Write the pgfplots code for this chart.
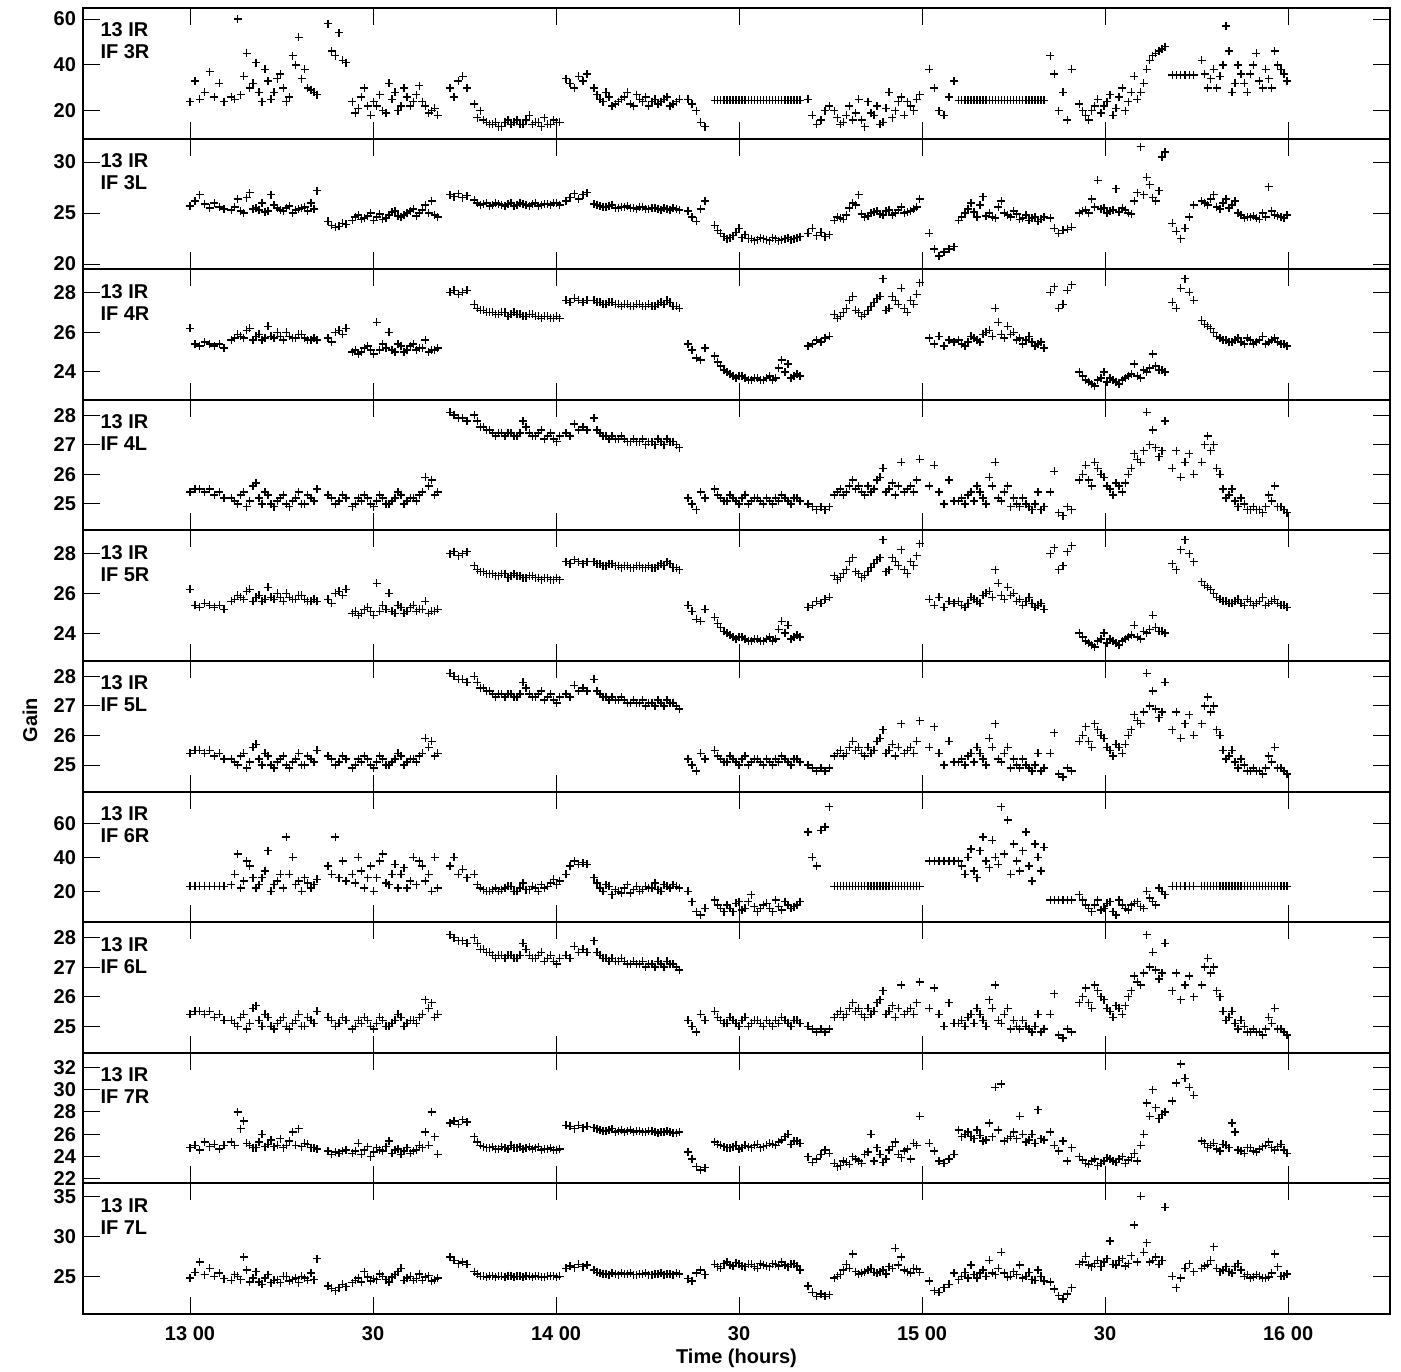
\documentclass[border=0pt]{standalone}
\usepackage{fontspec}
\setmainfont{Liberation Sans}
\usepackage{pgfplots}
\usepackage{pgfplotstable}
\pgfplotsset{compat=1.18}

% time in minutes after 13:00; panels 5R, 5L and 6L repeat 4R and 4L
\pgfplotstableread{
t r3 l3 r4 l4 r6 r7 l7
0.0 24 25.7 26.2 25.4 23 24.8 24.8
0.8 33 26.2 25.4 25.5 23 25.0 25.5
1.6 25 26.8 25.3 25.5 23 24.6 26.8
2.4 28 25.9 25.5 25.4 23 25.3 25.2
3.2 37 25.5 25.4 25.5 23 24.9 26.0
4.0 26 26.0 25.3 25.3 23 25.1 25.0
4.8 32 25.6 25.4 25.4 23 24.7 25.4
5.6 24 25.4 25.2 25.2 23 25.0 24.7
6.8 26 25.3 25.6 25.2 24 25.3 24.5
7.8 60 26.4 25.9 25.0 42 28.0 25.0
8.8 35 25.0 25.7 25.4 26 27.2 27.4
9.8 30 27.0 26.2 25.1 35 25.0 24.3
10.8 41 25.5 25.8 25.7 22 24.8 25.6
11.8 24 26.0 25.6 25.0 28 26.0 24.0
12.8 33 25.2 26.3 25.3 44 25.1 25.2
13.8 28 25.8 25.7 24.9 24 24.9 24.5
14.8 36 25.3 25.8 25.2 30 25.6 24.2
15.8 24 25.5 26.0 25.0 52 25.0 25.0
16.8 44 25.0 25.7 25.1 40 26.2 24.6
17.8 52 25.4 25.9 25.4 26 26.5 24.2
18.8 38 25.6 25.7 25.0 28 25.2 24.8
19.8 29 26.0 25.6 25.2 22 24.8 25.4
20.8 27 27.2 25.6 25.5 27 24.7 27.2
22.6 58 24.2 25.7 25.3 35 24.5 23.8
23.2 46 23.8 25.5 25.2 30 24.2 23.5
23.8 44 23.6 26.0 25.0 52 24.4 23.2
24.4 54 23.7 26.1 25.1 28 24.3 23.6
25.0 42 24.0 25.9 25.3 38 24.5 24.0
25.6 41 23.9 26.2 25.2 26 24.6 23.7
26.6 24 24.3 25.0 24.9 30 24.3 24.2
27.6 21 24.8 24.9 25.2 40 25.2 24.8
28.6 30 24.5 25.2 25.3 22 24.6 25.6
29.6 18 25.0 25.1 25.0 35 24.0 24.4
30.6 22 24.6 26.5 25.1 28 24.8 24.6
31.6 20 24.4 25.4 25.2 42 24.5 25.0
32.6 32 24.8 26.0 25.0 24 25.4 24.3
33.6 28 25.2 25.0 25.2 36 24.6 25.2
34.6 22 24.6 25.3 25.3 30 24.2 26.0
35.6 26 25.0 25.1 25.1 22 24.8 24.8
36.6 24 25.4 25.4 25.2 40 24.5 24.5
37.6 31 25.0 25.2 25.3 38 25.0 25.3
38.6 22 25.8 25.6 25.9 26 26.2 24.9
39.6 20 26.2 25.1 25.8 20 28.0 24.4
40.6 18 24.6 25.2 25.4 22 24.2 24.8
42.6 30 26.8 28.0 28.1 35 27.0 27.4
43.3 26 26.6 28.1 28.0 40 27.2 27.0
44.0 33 26.9 27.9 27.9 30 26.9 26.6
44.7 35 26.5 28.0 27.9 33 27.3 26.8
45.4 30 26.7 28.1 27.8 28 27.1 26.5
46.6 23 26.3 27.4 28.0 30 25.8 25.6
47.6 20 25.8 27.1 27.6 22 25.0 25.0
48.6 15 26.0 27.0 27.5 20 24.8 24.9
49.6 14 25.8 27.0 27.4 21 24.9 25.1
50.6 13 25.9 26.9 27.4 20 24.7 25.0
51.6 15 25.7 27.0 27.3 22 24.8 24.9
52.6 14 26.0 26.9 27.4 23 25.0 25.1
53.6 16 25.8 26.9 27.3 20 24.8 25.0
54.6 14 25.9 26.8 27.8 25 24.7 24.9
55.6 18 25.7 26.9 27.4 21 24.9 25.0
56.6 15 26.0 26.8 27.3 22 24.8 25.1
57.6 13 25.8 26.7 27.5 24 24.6 24.9
58.6 14 25.9 26.8 27.3 23 24.7 25.0
59.6 16 26.0 26.7 27.2 27 24.6 25.1
60.6 15 25.8 26.7 27.3 26 24.7 25.0
61.6 34 26.2 27.6 27.4 30 26.8 26.0
62.3 32 26.5 27.5 27.3 35 26.7 26.3
63.0 30 26.9 27.7 27.7 38 26.5 26.1
63.7 35 26.4 27.6 27.5 36 26.8 26.5
64.4 33 26.8 27.5 27.6 37 26.6 26.2
65.1 36 27.0 27.6 27.5 36 26.7 26.4
66.2 30 25.9 27.6 27.9 28 26.6 25.8
67.2 25 25.7 27.5 27.4 22 26.4 25.4
68.2 28 25.6 27.4 27.3 24 26.3 25.3
69.2 22 25.8 27.5 27.3 18 26.5 25.4
70.2 24 25.5 27.4 27.2 20 26.3 25.2
71.2 26 25.6 27.4 27.2 22 26.2 25.3
72.2 23 25.5 27.3 27.1 19 26.4 25.4
73.2 27 25.4 27.4 27.1 23 26.3 25.2
74.2 24 25.6 27.3 27.2 21 26.2 25.3
75.2 22 25.4 27.4 27.1 22 26.3 25.2
76.2 25 25.5 27.3 27.0 25 26.2 25.3
77.2 24 25.3 27.5 27.1 20 26.2 25.4
78.2 26 25.4 27.6 27.2 23 26.3 25.3
79.2 23 25.5 27.3 27.1 24 26.1 25.2
80.2 25 25.3 27.2 26.9 22 26.2 25.3
81.6 25 25.2 25.4 25.2 20 24.4 24.7
82.3 23 24.6 25.1 25.0 14 23.8 24.4
83.0 20 24.2 24.7 24.8 8 23.1 25.4
83.7 15 25.4 24.6 25.4 6 22.8 25.8
84.4 13 26.2 25.2 25.2 10 23.0 25.2
86.0 24.5 23.8 24.8 25.5 15 25.3 26.5
87.0 24.5 23.0 24.3 25.2 10 25.0 26.0
88.0 24.5 22.5 24.0 25.1 12 24.8 26.8
89.0 24.5 22.8 23.8 25.2 8 24.9 26.3
90.0 24.5 23.5 23.8 25.0 14 24.7 26.6
91.0 24.5 22.9 23.7 25.3 10 25.0 26.2
92.0 24.5 22.5 23.6 25.1 18 24.8 26.5
93.0 24.5 22.4 23.7 25.2 8 25.1 26.0
94.0 24.5 22.5 23.6 25.0 12 24.9 26.4
95.0 24.5 22.3 23.8 25.1 10 25.2 26.2
96.0 24.5 22.5 23.7 25.2 15 25.0 26.5
97.0 24.5 22.4 24.6 25.3 9 25.5 26.8
98.0 24.5 22.6 24.4 25.1 12 26.0 26.2
99.0 24.5 22.5 23.8 25.2 11 25.4 26.6
100.0 24.5 22.7 23.8 25.1 14 25.2 25.8
101.3 25 23.0 25.3 25.0 55 24.0 23.8
102.0 18 23.5 25.4 24.9 40 23.5 23.0
102.7 14 22.8 25.6 24.8 35 23.8 22.5
103.4 16 23.1 25.5 24.9 56 24.2 22.8
104.1 20 22.7 25.7 24.8 58 24.6 22.5
104.8 22 22.9 25.8 24.9 70 24.3 22.7
105.6 20 24.3 26.9 25.3 23 23.4 24.8
106.6 14 24.5 26.8 25.5 23 23.2 25.2
107.6 18 24.8 27.2 25.4 23 23.5 26.5
108.6 16 26.0 27.8 25.8 23 24.0 27.8
109.6 25 26.8 27.0 25.6 23 23.6 25.3
110.6 13 24.6 26.9 25.3 23 24.2 25.6
111.6 19 25.0 27.3 25.4 23 26.0 26.0
112.6 22 25.2 27.7 25.8 23 24.8 25.4
113.6 15 24.8 28.7 26.2 23 23.5 25.8
114.6 28 25.3 27.2 25.5 23 24.6 26.2
115.6 20 25.0 27.6 25.3 23 25.3 28.5
116.6 26 25.6 28.2 26.4 23 23.9 27.4
117.6 24 25.1 27.0 25.5 23 24.7 25.6
118.6 20 25.4 27.4 25.4 23 25.2 26.0
119.6 27 26.4 28.5 26.5 23 27.6 25.5
121.2 38 23.0 25.7 25.6 38 25.2 24.4
122.0 30 21.5 25.4 26.3 38 24.5 23.2
122.8 20 20.8 25.8 25.4 38 23.6 23.0
123.6 18 21.2 25.3 25.0 38 23.4 23.6
124.4 26 21.5 25.6 25.8 38 23.8 24.0
125.2 33 21.7 25.5 25.1 38 24.2 25.4
126.0 24.5 24.3 25.6 25.1 38 26.4 24.6
127.0 24.5 25.0 25.3 25.0 30 26.0 25.5
128.0 24.5 26.0 25.8 25.4 45 25.8 26.4
129.0 24.5 24.6 25.6 25.6 28 26.4 24.8
130.0 24.5 26.6 25.9 25.2 52 25.4 25.8
131.0 24.5 25.0 26.1 25.9 34 27.0 27.0
132.0 24.5 24.5 27.2 26.4 40 30.2 25.2
133.0 24.5 26.2 25.9 25.1 70 30.5 28.0
134.0 24.5 24.8 26.3 25.6 62 25.6 24.9
135.0 24.5 25.2 26.0 25.2 48 26.2 25.6
136.0 24.5 24.4 25.7 24.9 32 27.6 26.4
137.0 24.5 24.8 25.6 25.0 55 25.3 25.0
138.0 24.5 24.5 25.5 24.8 26 26.0 24.6
139.0 24.5 24.2 25.4 25.4 40 28.2 25.8
140.0 24.5 24.6 25.2 24.9 46 25.5 24.4
141.0 44 24.5 28.0 25.4 15 26.2 24.3
141.7 36 23.5 28.3 26.1 15 25.0 23.4
142.4 20 23.0 27.2 24.7 15 24.5 22.6
143.1 28 23.3 27.4 24.6 15 25.4 22.2
143.8 16 23.4 28.1 24.9 15 23.6 22.8
144.5 38 23.6 28.4 24.8 15 24.8 23.6
145.8 23 25.0 24.0 25.8 18 24.0 26.5
146.8 18 25.3 23.6 26.3 12 23.4 27.5
147.8 20 26.4 23.4 25.6 8 23.6 26.2
148.8 25 28.2 23.6 26.2 15 23.2 27.0
149.8 22 25.5 24.0 25.9 10 23.6 26.8
150.8 27 25.2 23.7 25.5 14 23.8 29.4
151.8 21 27.4 23.5 25.7 6 23.5 26.4
152.8 30 25.5 23.6 25.4 12 24.0 27.2
153.8 24 25.0 23.8 26.0 9 23.7 26.6
154.8 35 26.2 24.4 26.7 13 24.3 31.4
155.8 28 31.5 23.7 26.4 11 25.0 35.0
156.8 38 28.5 24.0 28.1 20 28.8 29.2
157.8 44 26.5 24.9 27.5 14 30.0 27.0
158.8 46 27.2 24.1 26.6 22 27.4 26.5
159.8 48 31.0 24.0 27.8 18 28.0 33.6
161.0 35.5 24.0 27.5 26.2 23 29.0 25.0
161.7 35.5 23.2 27.2 26.8 23 30.6 23.6
162.4 35.5 22.5 28.2 25.9 23 32.3 24.8
163.1 35.5 23.5 28.7 26.4 23 31.0 26.0
163.8 35.5 24.6 28.0 26.7 23 30.2 26.6
164.5 35.5 25.8 27.6 26.0 23 29.5 25.6
165.8 42 26.2 26.6 26.4 23 25.4 26.0
166.8 30 25.8 26.3 27.3 23 24.8 26.5
167.8 38 26.8 26.0 27.0 23 25.2 28.7
168.8 35 25.4 25.7 26.0 23 24.5 25.6
169.8 57 26.4 25.6 25.2 23 25.0 26.2
170.8 28 25.8 25.5 25.5 23 27.0 25.4
171.8 40 25.0 25.7 24.9 23 24.6 26.6
172.8 32 24.5 25.4 25.0 23 24.3 25.0
173.8 36 24.6 25.6 24.8 23 24.8 24.8
174.8 45 24.5 25.5 24.8 23 24.4 25.2
175.8 30 25.0 25.8 24.7 23 24.9 24.8
176.8 34 27.6 25.5 25.3 23 25.3 24.9
177.8 46 24.8 25.7 25.6 23 24.6 27.8
178.8 38 24.6 25.4 24.9 23 25.1 25.0
179.8 33 24.8 25.3 24.7 23 24.3 25.3
}\gains

% the half-minute solutions inside the long scans
\pgfplotstableread{
t r3 l3 r4 l4 r6 r7 l7
7.3 25 25.6 25.7 25.1 30 25.0 25.2
8.3 27 25.2 25.8 25.3 22 26.5 24.6
9.3 45 26.5 26.1 24.9 38 25.2 25.8
10.3 32 25.4 25.6 25.6 28 24.8 24.8
11.3 28 25.3 25.9 25.2 24 25.3 24.3
12.3 38 25.1 25.7 25.4 32 24.9 24.8
13.3 25 26.8 25.8 25.0 20 25.5 24.2
14.3 34 25.5 26.0 25.1 26 25.0 24.6
15.3 30 25.2 25.6 25.3 22 24.8 25.0
16.3 26 25.7 25.8 24.9 30 25.4 24.4
17.3 40 25.3 25.7 25.2 24 25.0 24.8
18.3 34 25.5 25.9 25.0 20 24.9 25.0
19.3 30 25.2 25.6 25.3 25 25.1 24.5
20.3 28 25.4 25.7 25.1 24 24.8 24.6
27.1 19 24.6 25.1 25.0 25 24.5 24.5
28.1 26 24.4 25.0 25.1 32 24.2 24.3
29.1 22 24.7 25.3 25.2 28 24.9 24.9
30.1 24 24.3 24.9 24.9 20 24.4 24.7
31.1 27 24.9 25.1 25.3 38 24.6 25.3
32.1 19 24.5 25.2 25.0 25 24.9 24.6
33.1 25 25.1 25.1 25.1 30 24.3 24.9
34.1 20 24.7 25.4 25.4 22 24.7 25.6
35.1 30 24.8 25.0 25.0 34 24.5 24.5
36.1 22 25.2 25.3 25.2 26 24.3 25.0
37.1 27 24.7 25.1 25.1 24 24.6 24.7
38.1 24 25.3 25.2 25.4 35 24.8 24.5
39.1 19 25.0 25.0 25.6 30 25.0 25.1
40.1 21 24.8 25.1 25.3 40 25.8 24.6
47.1 17 26.0 27.2 27.8 24 25.3 25.3
48.1 16 25.9 27.1 27.6 21 24.9 25.0
49.1 14 25.7 27.0 27.5 20 24.8 25.1
50.1 15 26.0 26.9 27.3 22 24.7 24.9
51.1 13 25.8 27.0 27.4 21 24.9 25.0
52.1 16 25.9 26.8 27.4 23 24.7 25.1
53.1 15 25.7 27.0 27.3 20 24.8 24.9
54.1 14 26.0 26.9 27.4 22 24.9 25.0
55.1 16 25.8 26.8 27.6 21 24.8 25.1
56.1 14 25.9 26.9 27.3 23 24.7 24.9
57.1 15 25.7 26.8 27.4 20 24.9 25.0
58.1 17 25.9 26.8 27.2 22 24.7 24.9
59.1 14 25.8 26.7 27.4 25 24.8 25.1
60.1 15 26.0 26.8 27.1 24 24.6 24.9
66.7 27 25.8 27.5 27.5 25 26.5 25.5
67.7 24 25.6 27.4 27.3 20 26.3 25.3
68.7 26 25.7 27.5 27.2 23 26.4 25.2
69.7 23 25.5 27.4 27.2 21 26.2 25.3
70.7 25 25.6 27.3 27.3 19 26.4 25.4
71.7 28 25.7 27.4 27.1 24 26.3 25.3
72.7 22 25.5 27.3 27.2 21 26.2 25.2
73.7 25 25.6 27.4 27.1 20 26.3 25.3
74.7 26 25.4 27.3 27.0 23 26.2 25.4
75.7 24 25.5 27.3 27.1 22 26.3 25.2
76.7 23 25.4 27.4 27.2 21 26.1 25.3
77.7 25 25.5 27.4 27.0 24 26.2 25.2
78.7 22 25.3 27.5 27.1 22 26.2 25.3
79.7 24 25.4 27.3 27.0 23 26.1 25.4
86.5 24.5 23.3 24.5 25.3 12 25.1 26.2
87.5 24.5 22.7 24.1 25.1 8 24.9 26.6
88.5 24.5 22.6 23.9 25.3 10 24.8 26.4
89.5 24.5 23.1 23.7 25.1 13 25.0 26.7
90.5 24.5 22.6 23.8 25.2 9 24.8 26.3
91.5 24.5 22.5 23.6 25.0 14 24.9 26.5
92.5 24.5 22.3 23.7 25.2 11 25.0 26.2
93.5 24.5 22.6 23.6 25.1 10 24.8 26.6
94.5 24.5 22.4 23.7 25.2 13 25.0 26.3
95.5 24.5 22.6 23.6 25.0 8 25.1 26.6
96.5 24.5 22.3 24.2 25.1 11 25.3 26.3
97.5 24.5 22.5 24.0 25.2 14 25.8 26.4
98.5 24.5 22.4 23.7 25.0 10 25.1 26.5
99.5 24.5 22.6 23.9 25.2 12 25.4 26.3
106.1 17 24.6 26.7 25.4 23 23.1 25.0
107.1 15 24.4 27.0 25.3 23 23.6 25.8
108.1 22 25.5 27.6 25.6 23 23.3 26.0
109.1 19 25.8 27.1 25.5 23 23.8 25.6
110.1 16 24.9 26.8 25.4 23 23.4 25.4
111.1 24 24.7 27.1 25.6 23 24.4 25.8
112.1 18 25.1 27.5 25.5 23 23.6 25.5
113.1 14 24.9 27.8 25.9 23 24.2 25.6
114.1 21 25.2 27.1 25.4 23 23.8 25.3
115.1 17 24.8 27.8 25.7 23 24.9 26.0
116.1 24 25.3 27.4 25.6 23 24.2 26.4
117.1 18 25.0 27.2 25.4 23 24.5 25.8
118.1 22 25.2 27.6 25.6 23 23.8 25.4
119.1 25 25.6 27.9 25.8 23 25.0 25.9
126.5 24.5 24.6 25.4 25.2 35 25.8 25.0
127.5 24.5 25.4 25.5 25.3 40 26.2 24.8
128.5 24.5 25.1 25.7 25.1 32 25.6 25.2
129.5 24.5 25.8 25.5 25.4 44 25.9 25.4
130.5 24.5 24.7 26.0 25.0 38 25.5 25.0
131.5 24.5 24.6 25.8 25.6 50 25.8 25.4
132.5 24.5 25.6 26.5 25.2 36 26.4 26.0
133.5 24.5 25.0 25.7 25.4 42 25.4 25.4
134.5 24.5 24.6 25.9 24.9 30 25.8 25.0
135.5 24.5 24.9 25.6 25.0 38 25.6 25.2
136.5 24.5 24.5 25.4 25.2 44 26.0 24.8
137.5 24.5 24.3 25.8 24.9 35 25.5 25.5
138.5 24.5 24.6 25.3 25.0 48 25.2 24.5
139.5 24.5 24.4 25.5 24.8 32 25.6 25.0
146.3 20 25.2 23.8 26.0 15 23.7 26.8
147.3 16 25.0 23.5 25.8 10 23.3 26.4
148.3 22 25.6 23.3 26.4 12 23.8 26.6
149.3 19 25.4 23.7 26.0 9 23.4 26.2
150.3 24 25.0 23.5 25.6 13 23.9 27.2
151.3 18 25.3 23.6 25.3 8 23.6 26.5
152.3 26 25.1 23.4 25.6 15 23.8 27.0
153.3 20 25.3 23.7 25.7 10 23.4 26.3
154.3 28 24.9 23.9 26.2 12 23.9 27.6
155.3 25 27.0 23.8 26.5 14 23.6 26.8
156.3 32 26.8 24.1 26.8 10 26.0 28.0
157.3 42 27.8 24.2 27.0 16 27.6 26.8
158.3 45 26.2 24.3 26.9 12 28.4 27.4
159.3 47 30.5 24.1 26.8 20 27.8 27.0
166.3 36 26.0 26.4 27.0 23 25.2 26.3
167.3 34 26.4 26.2 26.8 23 25.0 27.0
168.3 30 25.6 25.8 26.2 23 24.7 26.0
169.3 40 26.0 25.6 25.5 23 25.1 25.8
170.3 46 25.5 25.5 25.3 23 24.8 25.6
171.3 32 26.2 25.6 25.1 23 26.2 26.2
172.3 36 24.8 25.5 25.2 23 24.5 25.8
173.3 28 24.6 25.7 24.8 23 24.8 25.2
174.3 40 24.7 25.4 24.9 23 24.5 24.9
175.3 33 24.4 25.6 24.8 23 24.7 25.0
176.3 38 24.6 25.4 24.9 23 25.0 24.8
177.3 30 25.2 25.6 25.1 23 24.8 25.4
178.3 40 24.7 25.5 24.9 23 24.9 26.2
179.3 36 24.5 25.4 24.8 23 24.6 25.1
}\gainsb

\newcommand{\lbl}{\fontsize{10}{12}\selectfont\bfseries}

\pgfplotsset{
  panel/.style={
    scale only axis, width=653.5pt, height=65.3pt, anchor=north west,
    xmin=-17.54, xmax=196.7, xtick={0,30,...,180}, xticklabels={},
    tick align=inside, major tick length=8.5pt,
    axis line style={line width=1pt},
    every tick/.style={black, line width=0.5pt},
    /pgf/number format/assume math mode=true,
    yticklabel style={font=\lbl},
  },
  gainmark/.style={black, only marks, mark=+, mark size=2pt, line width=0.7pt},
}

% #1 row, #2 ymin, #3 ymax, #4 ticks, #5 column, #6 IF name, #7 extra options
\newcommand{\panel}[7]{%
  \begin{axis}[panel, at={(0pt,{-#1*65.3pt})}, ymin=#2, ymax=#3, ytick={#4}, #7]
    \addplot[gainmark] table[x=t, y=#5] {\gains};
    \addplot[gainmark] table[x=t, y=#5] {\gainsb};
    \node[font=\lbl, anchor=west] at (rel axis cs:0.008,0.832) {13 IR};
    \node[font=\lbl, anchor=west] at (rel axis cs:0.008,0.663) {#6};
  \end{axis}}

\begin{document}
\begin{tikzpicture}
\path[use as bounding box] (-41.5pt,4pt) rectangle (659pt,-681.5pt);
\panel{0}{7.85}{64.8}{20,40,60}{r3}{IF 3R}{}
\panel{1}{19.5}{32.3}{20,25,30}{l3}{IF 3L}{}
\panel{2}{22.6}{29.17}{24,26,28}{r4}{IF 4R}{}
\panel{3}{24.1}{28.52}{25,26,27,28}{l4}{IF 4L}{}
\panel{4}{22.6}{29.17}{24,26,28}{r4}{IF 5R}{}
\panel{5}{24.1}{28.52}{25,26,27,28}{l4}{IF 5L}{}
\panel{6}{1.8}{78.8}{20,40,60}{r6}{IF 6R}{}
\panel{7}{24.1}{28.52}{25,26,27,28}{l4}{IF 6L}{}
\panel{8}{21.6}{33.3}{22,24,...,32}{r7}{IF 7R}{}
\panel{9}{20.3}{36.6}{25,30,35}{l7}{IF 7L}{xticklabels={13 00,30,14 00,30,15 00,30,16 00},
  xticklabel style={font=\lbl, yshift=-2.5pt}, xlabel={Time (hours)}, xlabel style={font=\lbl, yshift=2.5pt}}
\node[rotate=90, font=\lbl] at (-26.5pt,-356pt) {Gain};
\end{tikzpicture}
\end{document}
